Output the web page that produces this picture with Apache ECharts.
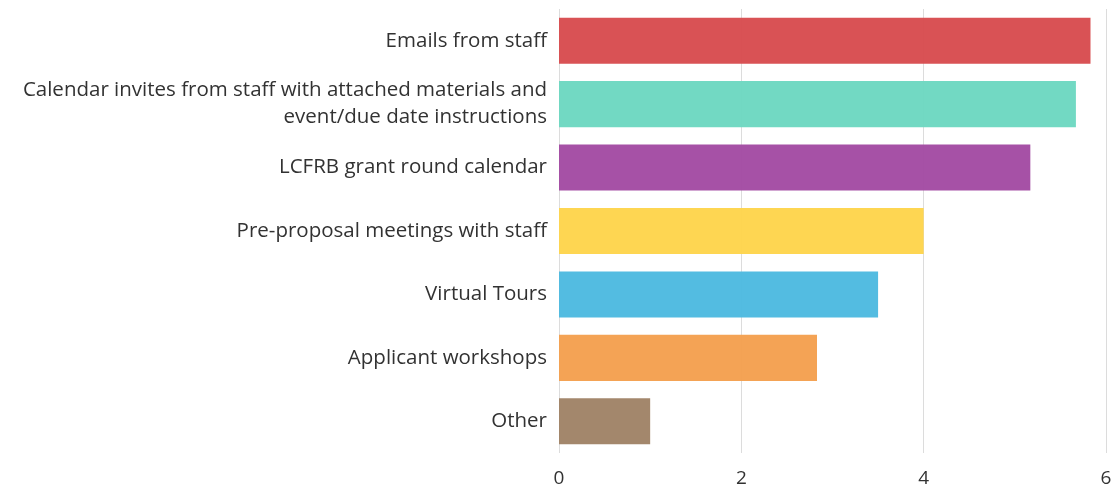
<!DOCTYPE html>
<html>
<head>
<meta charset="utf-8">
<script src="https://cdn.jsdelivr.net/npm/echarts@6/dist/echarts.min.js"></script>
<style>
html,body{margin:0;padding:0;background:#fff;}
#chart{width:1117px;height:490px;}
</style>
</head>
<body>
<div id="chart"></div>
<script>
const categories = [
  "Emails from staff",
  "Calendar invites from staff with attached materials and\nevent/due date instructions",
  "LCFRB grant round calendar",
  "Pre-proposal meetings with staff",
  "Virtual Tours",
  "Applicant workshops",
  "Other"
];
const values = [5.83, 5.67, 5.17, 4, 3.5, 2.83, 1];
const colors = ["#d84c50", "#6dd8c1", "#a34ba3", "#fed54c", "#4dbae0", "#f4a04f", "#a08367"];
const xTicks = [0, 2, 4, 6];

const chart = echarts.init(document.getElementById('chart'), null, {renderer: 'canvas'});
chart.setOption({
  animation: false,
  grid: {left: 559, right: 11, top: 9, bottom: 37, containLabel: false},
  xAxis: {
    type: 'value',
    min: xTicks[0], max: xTicks[xTicks.length - 1], interval: 2,
    axisLine: {show: false},
    axisTick: {show: false},
    splitLine: {show: true, lineStyle: {color: '#dcdcdc', width: 1}},
    axisLabel: {color: '#323232', fontFamily: 'Open Sans', fontSize: 19, margin: 16}
  },
  yAxis: {
    type: 'category',
    inverse: true,
    data: categories,
    axisLine: {show: false},
    axisTick: {show: false},
    axisLabel: {color: '#323232', fontFamily: 'Open Sans', fontSize: 20.5, margin: 12, lineHeight: 27, align: 'right'}
  },
  series: [{
    type: 'bar',
    barWidth: '72.6%',
    data: values.map((v, i) => ({value: v, itemStyle: {color: colors[i]}})),
    itemStyle: {opacity: 0.97}
  }]
});
</script>
</body>
</html>
